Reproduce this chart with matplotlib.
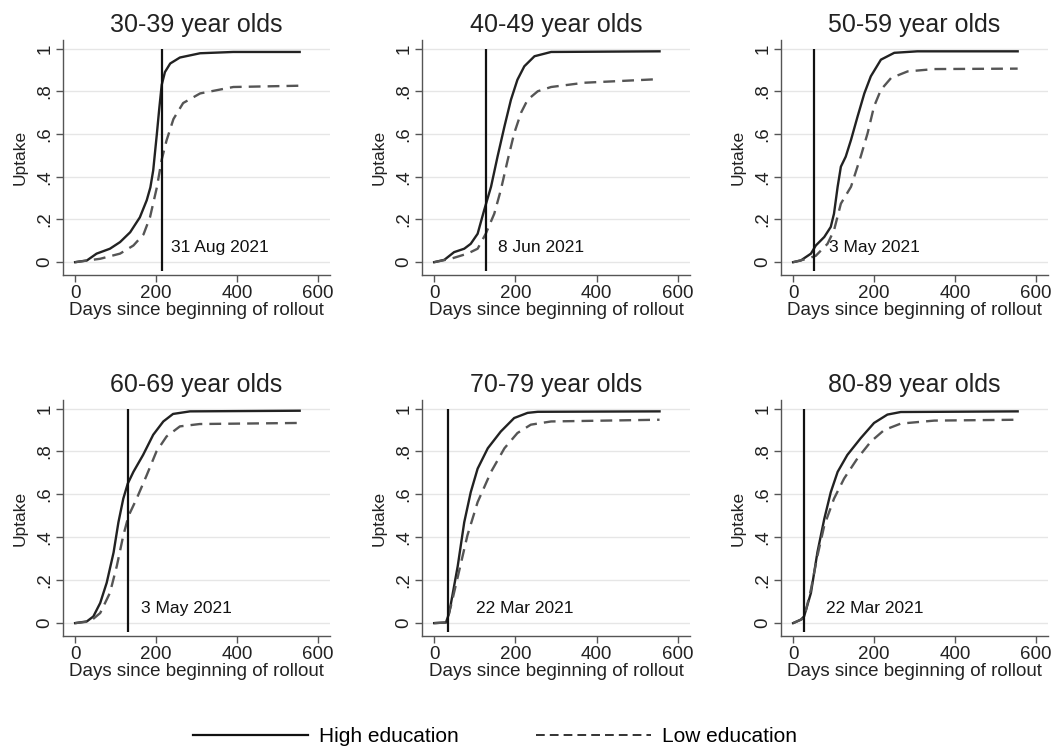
import matplotlib
matplotlib.use("Agg")
import matplotlib.pyplot as plt
from matplotlib.lines import Line2D

plt.rcParams["font.family"] = ["Liberation Sans", "DejaVu Sans"]

# panel titles, policy date (day since rollout) and its label
groups = ["30-39 year olds", "40-49 year olds", "50-59 year olds",
          "60-69 year olds", "70-79 year olds", "80-89 year olds"]
vline_days = [215, 128, 51, 130, 33, 26]
vline_labels = ["31 Aug 2021", "8 Jun 2021", "3 May 2021",
                "3 May 2021", "22 Mar 2021", "22 Mar 2021"]
label_days = [238, 158, 88, 162, 102, 82]

# uptake curves (days, share)
d30_hi = [0, 29, 53, 86, 111, 136, 160, 177, 186, 193, 202, 208, 214, 222, 235, 259, 309, 391, 555]
u30_hi = [0, .008, .04, .063, .094, .14, .21, .29, .35, .43, .6, .72, .83, .89, .93, .958, .978, .984, .984]
d30_lo = [0, 62, 111, 144, 169, 185, 202, 214, 226, 243, 267, 309, 391, 555]
u30_lo = [0, .016, .04, .078, .13, .21, .35, .48, .57, .67, .745, .79, .82, .826]

d40_hi = [0, 25, 49, 74, 90, 107, 123, 140, 156, 173, 189, 205, 222, 247, 288, 555]
u40_hi = [0, .011, .047, .063, .086, .133, .243, .353, .494, .635, .76, .854, .917, .964, .984, .987]
d40_lo = [0, 41, 82, 107, 127, 148, 164, 181, 197, 214, 230, 255, 288, 370, 555]
u40_lo = [0, .016, .04, .063, .133, .227, .337, .478, .603, .70, .76, .80, .82, .84, .857]

d50_hi = [0, 19, 44, 56, 77, 93, 101, 110, 118, 130, 143, 159, 176, 192, 217, 250, 307, 555]
u50_hi = [0, .008, .04, .078, .118, .165, .227, .353, .447, .494, .572, .68, .79, .87, .948, .98, .987, .987]
d50_lo = [0, 35, 56, 85, 101, 118, 143, 167, 184, 200, 217, 242, 283, 349, 555]
u50_lo = [0, .016, .03, .086, .149, .274, .353, .494, .603, .729, .807, .862, .893, .904, .906]

d60_hi = [0, 29, 45, 62, 78, 95, 107, 119, 130, 144, 168, 193, 218, 242, 284, 555]
u60_hi = [0, .008, .031, .094, .188, .329, .47, .58, .65, .705, .784, .878, .94, .975, .987, .99]
d60_lo = [0, 37, 62, 86, 103, 119, 132, 152, 177, 201, 226, 259, 308, 555]
u60_lo = [0, .008, .047, .141, .266, .408, .50, .58, .69, .80, .87, .917, .928, .933]

d70_hi = [0, 29, 37, 58, 74, 90, 107, 132, 164, 197, 230, 255, 555]
u70_hi = [0, .003, .047, .266, .47, .61, .72, .815, .893, .956, .98, .985, .987]
d70_lo = [0, 29, 41, 66, 82, 107, 140, 173, 205, 238, 288, 555]
u70_lo = [0, .003, .078, .28, .41, .564, .705, .815, .886, .925, .94, .948]

d80_hi = [0, 19, 27, 44, 60, 77, 93, 110, 134, 167, 200, 233, 266, 555]
u80_hi = [0, .016, .031, .141, .33, .486, .61, .705, .784, .862, .933, .972, .984, .987]
d80_lo = [0, 27, 44, 60, 77, 101, 126, 159, 192, 225, 266, 349, 555]
u80_lo = [0, .023, .157, .313, .455, .58, .674, .768, .846, .90, .93, .944, .948]

high = [(d30_hi, u30_hi), (d40_hi, u40_hi), (d50_hi, u50_hi),
        (d60_hi, u60_hi), (d70_hi, u70_hi), (d80_hi, u80_hi)]
low = [(d30_lo, u30_lo), (d40_lo, u40_lo), (d50_lo, u50_lo),
       (d60_lo, u60_lo), (d70_lo, u70_lo), (d80_lo, u80_lo)]

yticks = [0, .2, .4, .6, .8, 1]
ytick_labels = ["0", ".2", ".4", ".6", ".8", "1"]
xticks = [0, 200, 400, 600]

W, H = 1056, 752
fig = plt.figure(figsize=(W / 100, H / 100), dpi=100, facecolor="white")

# axes boxes in pixels: (left, right), (top, bottom)
col_px = [(63, 330), (422, 690), (781, 1048)]
row_px = [(40, 275), (400, 636)]

for i, title in enumerate(groups):
    (x0, x1), (y0, y1) = col_px[i % 3], row_px[i // 3]
    ax = fig.add_axes([x0 / W, 1 - y1 / H, (x1 - x0) / W, (y1 - y0) / H])
    ax.set_xlim(-30, 630)
    ax.set_ylim(-0.06, 1.04)
    for s in ("top", "right"):
        ax.spines[s].set_visible(False)
    for s in ("left", "bottom"):
        ax.spines[s].set_color("#555555")
        ax.spines[s].set_linewidth(1.0)
    ax.set_yticks(yticks)
    ax.set_yticklabels(ytick_labels, rotation=90, va="center")
    ax.set_xticks(xticks)
    ax.tick_params(axis="both", labelsize=13.5, colors="#555555", labelcolor="#222222",
                   length=5, width=1.0, pad=2)
    ax.grid(axis="y", color="#e6e6e6", linewidth=1.0)
    ax.set_axisbelow(True)

    ax.plot(*high[i], color="#222222", lw=1.7, solid_joinstyle="round")
    ax.plot(*low[i], color="#555555", lw=1.7, dashes=(5, 3))
    ax.vlines(vline_days[i], -0.04, 1.0, color="#111111", lw=1.6)
    ax.text(label_days[i], 0.07, vline_labels[i], fontsize=12.5, color="#111111",
            va="center", ha="left")

    ax.set_title(title, fontsize=18, color="#222222", pad=6)
    ax.set_xlabel("Days since beginning of rollout", fontsize=13.5, color="#222222",
                  labelpad=0)
    ax.set_ylabel("Uptake", fontsize=12.5, color="#222222", labelpad=6)

handles = [Line2D([], [], color="#111111", lw=1.6),
           Line2D([], [], color="#333333", lw=1.4, dashes=(4.5, 2.6))]
fig.legend(handles, ["High education", "Low education"], loc="center",
           bbox_to_anchor=(0.469, 1 - 737 / H), ncol=2, frameon=False,
           fontsize=15, handlelength=5.5, handletextpad=0.55, columnspacing=3.7)

fig.savefig("out.png", dpi=100, facecolor="white")
